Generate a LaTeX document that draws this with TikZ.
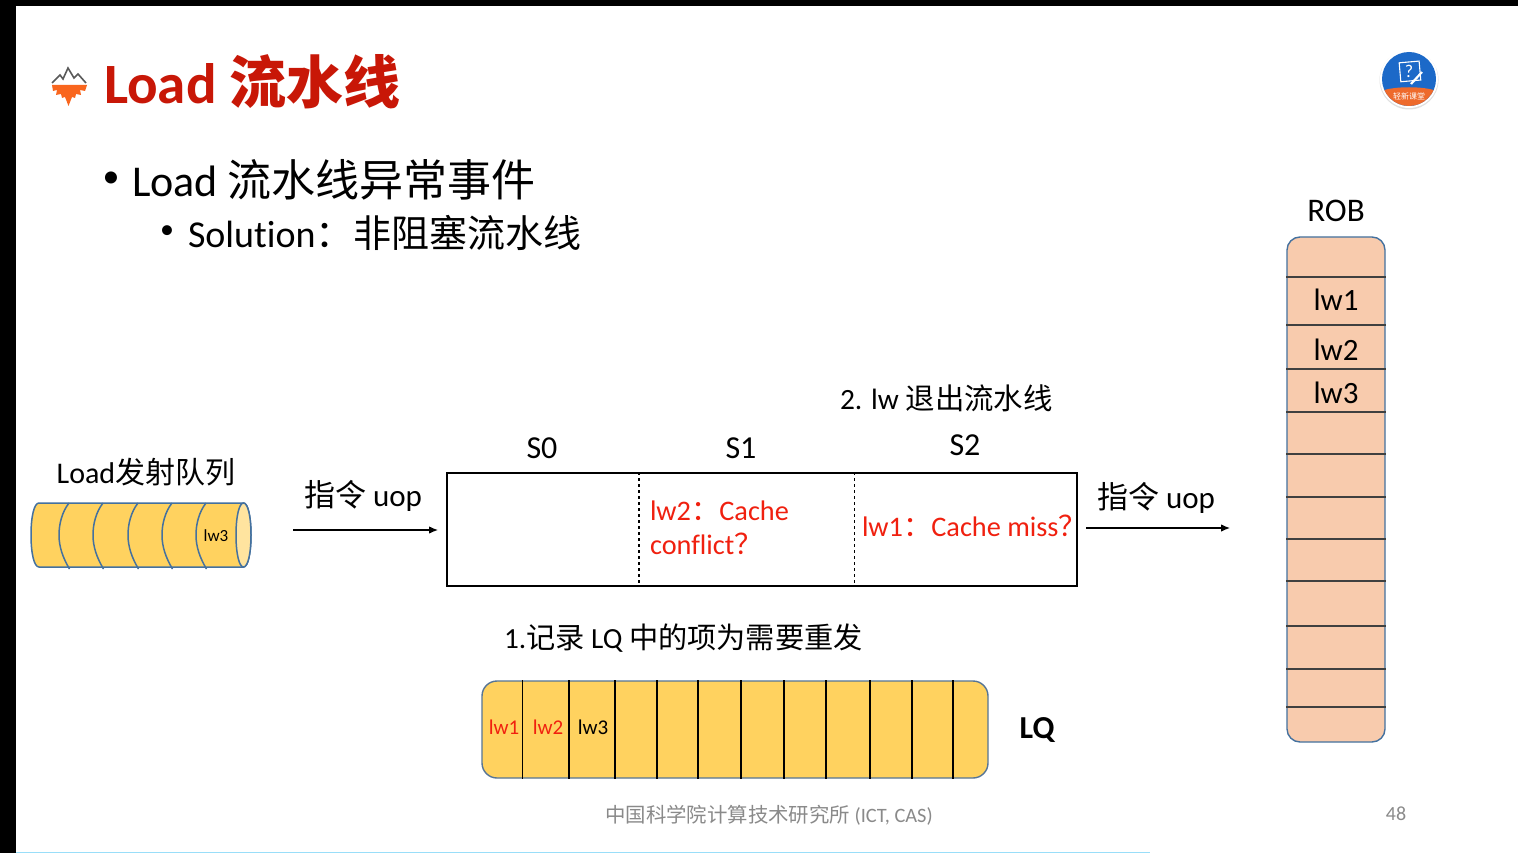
\documentclass[tikz,border=0pt]{standalone}
\usepackage{fontspec}
\setmainfont[Ligatures=NoCommon]{Carlito}
\newfontfamily\cjk{Noto Sans CJK SC}
\usepackage{xcolor}
\usetikzlibrary{calc,arrows.meta,positioning}

\definecolor{titlered}{HTML}{C81707}
\definecolor{textred}{HTML}{F0200F}
\definecolor{slotyellow}{HTML}{FFD25F}
\definecolor{robpeach}{HTML}{F8CBAD}
\definecolor{edgeblue}{HTML}{44719F}
\definecolor{footgray}{HTML}{8A8A8A}
\definecolor{logoorange}{HTML}{F9661E}
\definecolor{badgeblue}{HTML}{1C69C8}
\definecolor{badgeorange}{HTML}{EE6A2C}

\newcommand{\zh}[1]{{\cjk #1}}
\newcommand{\sz}[1]{\fontsize{#1}{#1}\selectfont}

\begin{document}
\begin{tikzpicture}[x=1pt,y=-1pt,>={Latex[length=9pt,width=7.5pt]}]
        \tikzset{
                label/.style    = {inner sep=0pt, outer sep=0pt, text=black},
                leftlabel/.style = {label, anchor=west},
                stagelabel/.style = {label, font=\sz{32}},
                robitem/.style  = {label, font=\sz{31}},
                lqitem/.style   = {label, font=\sz{21}},
                redtext/.style  = {label, anchor=west, align=left, text=textred, font=\fontsize{28.3}{34}\selectfont},
                robbox/.style   = {draw=edgeblue, line width=1.4pt, fill=robpeach, rounded corners=13pt,
                                minimum width=98pt, minimum height=505pt, inner sep=0pt},
                lqbox/.style    = {draw=edgeblue!70!gray, line width=1.4pt, fill=slotyellow, rounded corners=15pt,
                                minimum width=506pt, minimum height=97pt, inner sep=0pt},
                pipebox/.style  = {draw, line width=1.3pt, minimum width=630pt, minimum height=113pt, inner sep=0pt},
                queueline/.style = {draw=edgeblue, line width=1.5pt}
        }
        \useasboundingbox (0,0) rectangle (1518,853);
        \fill[white] (0,0) rectangle (1518,853);

        % frame of the screenshot
        \fill[black] (0,0) rectangle (1518,6);
        \fill[black] (0,0) rectangle (16,853);
        \fill[cyan!40] (16,851.5) rectangle (1150,853);

        % title with its logo
        \fill[logoorange] (52,85) -- (87,85) -- (85,91) -- (80,90) -- (81,95) -- (76,94) -- (75,98) -- (72,97) -- (68.5,106)
                -- (65,97) -- (62,98) -- (61,94) -- (56,95) -- (57,90) -- (53,91) -- cycle;
        \draw[gray!70!black, line width=1.6pt] (52,83) -- (60,75) -- (63,79) -- (68,68) -- (74,78) -- (78,74) -- (86,83);
        \node[leftlabel, text=titlered, font=\sz{57}\bfseries] (title) at (104,82) {Load \zh{流水线}};

        % bullets
        \node[label, font=\sz{34}] (b1) at (111,180) {•};
        \node[leftlabel, font=\sz{44}] (l1) at (132,180) {Load \zh{流水线异常事件}};
        \node[label, font=\sz{28}] (b2) at (167,232) {•};
        \node[leftlabel, font=\sz{38}] (l2) at (188,233) {Solution\zh{：}\zh{非阻塞流水线}};

        % badge
        \fill[black!12] (1409,80) circle (29.5);
        \fill[white] (1409,79) circle (29);
        \begin{scope}
                \clip (1409,79) circle (27);
                \fill[badgeblue] (1381,51) rectangle (1437,107);
                \fill[badgeorange] (1381,91) .. controls (1395,86) and (1423,86) .. (1437,91) -- (1437,107) -- (1381,107) -- cycle;
        \end{scope}
        \draw[white, line width=1.1pt, rotate around={5:(1409,72)}] (1400,62) rectangle (1420,81);
        \draw[white, line width=2.2pt] (1411,84) -- (1422,72);
        \node[label, text=white, font=\sz{18}] (mark) at (1409,71) {?};
        \node[label, text=white, font=\cjk\sz{8}] (badge) at (1409,96) {轻新课堂};

        % issue queue
        \node[label, font=\sz{30}] (iqname) at (146,472) {Load\zh{发射队列}};
        \path[queueline, fill=slotyellow] (39,503) -- (243.5,503) .. controls (248,503) and (251,517) .. (251,535)
                .. controls (251,553) and (248,567) .. (243.5,567) -- (39,567)
                .. controls (34,567) and (31,553) .. (31,535) .. controls (31,517) and (34,503) .. (39,503) -- cycle;
        \path[queueline, fill=slotyellow!60!white] (243.5,503) .. controls (239,503) and (236,517) .. (236,535)
                .. controls (236,553) and (239,567) .. (243.5,567) .. controls (248,567) and (251,553) .. (251,535)
                .. controls (251,517) and (248,503) .. (243.5,503) -- cycle;
        \foreach \x in {0,34,69,103,137}
        \draw[queueline, xshift=\x pt] (69,503) .. controls (62,512) and (59,524) .. (59,535)
                .. controls (59,547) and (63,558) .. (69.5,569);
        \node[label, font=\sz{17}] (iqitem) at (216,536) {lw3};

        % pipeline
        \node[pipebox] (pipe) at (762,529.5) {};
        \foreach \x in {639,854.5}
        \draw[dashed, line width=1.4pt] (pipe.north -| \x,0) -- (pipe.south -| \x,0);
        \node[stagelabel] (s0) at (542,448) {S0};
        \node[stagelabel] (s1) at (741,448) {S1};
        \node[stagelabel] (s2) at (965,445) {S2};
        \node[leftlabel, font=\sz{29.4}] (retire) at (840,398) {2. lw \zh{退出流水线}};
        \node[redtext] (miss2) at (650,528) {lw2\zh{：}Cache\\conflict\zh{？}};
        \node[redtext] (miss1) at (862,526) {lw1\zh{：}Cache miss\zh{？}};

        % arrows in and out of the pipeline
        \coordinate (infrom) at (293,530);
        \coordinate (into) at (438,530);
        \coordinate (outfrom) at (1086,528);
        \coordinate (outto) at (1230,528);
        \draw[->, line width=1.2pt] (infrom) -- (into);
        \draw[->, line width=1.2pt] (outfrom) -- (outto);
        \node[label, font=\sz{31}] (uopin) at (363,496) {\zh{指令} uop};
        \node[label, font=\sz{31}] (uopout) at (1156,498) {\zh{指令} uop};

        % load queue
        \node[leftlabel, font=\sz{29.2}] (lqnote) at (504,638) {1.\zh{记录} LQ \zh{中的项为需要重发}};
        \node[lqbox] (lq) at (735,729.5) {};
        \foreach \x in {522.5,569,615,657,698,741,784,826,870,912,953}
        \draw[line width=1.3pt] (lq.north -| \x,0) -- (lq.south -| \x,0);
        \node[lqitem, text=textred] (lq1) at (504,727) {lw1};
        \node[lqitem, text=textred] (lq2) at (548,727) {lw2};
        \node[lqitem] (lq3) at (593,727) {lw3};
        \node[label, font=\sz{32}\bfseries] (lqname) at (1037,730) {LQ};

        % reorder buffer
        \node[robbox] (rob) at (1336,489.5) {};
        \foreach \y in {277,325,369,412,454,497,539,581,626,669,707}
        \draw[line width=1.2pt, black!75] (rob.west |- 0,\y) -- (rob.east |- 0,\y);
        \node[label, font=\sz{33}] (robname) at (1336,211) {ROB};
        \node[robitem] (rob1) at (1336,300) {lw1};
        \node[robitem] (rob2) at (1336,350) {lw2};
        \node[robitem] (rob3) at (1336,393) {lw3};

        % footer
        \node[label, text=footgray, font=\sz{20.4}] (foot) at (769,815) {\zh{中国科学院计算技术研究所} (ICT, CAS)};
        \node[label, text=footgray, font=\sz{20}] (page) at (1396,814) {48};
\end{tikzpicture}
\end{document}
